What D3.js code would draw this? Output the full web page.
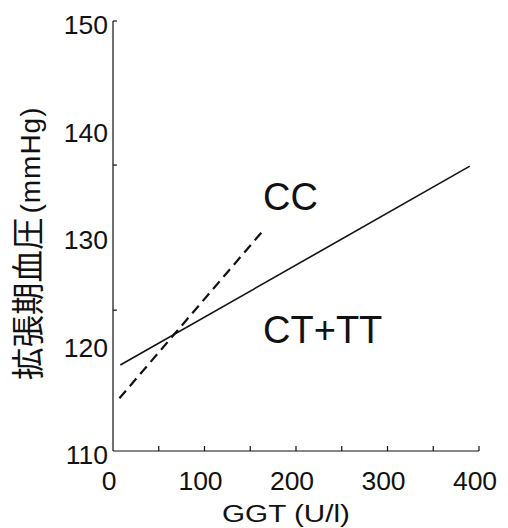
<!DOCTYPE html>
<html>
<head>
<meta charset="utf-8">
<script src="https://cdn.jsdelivr.net/npm/d3@7"></script>
<style>
  body { margin: 0; background: #fff; }
  svg { display: block; }
</style>
</head>
<body>
<svg id="chart" width="508" height="528"></svg>
<script>
// Data
var xLabelTicks = [0, 100, 200, 300, 400];
var xMinorTicks = [50, 100, 150, 200, 250, 300, 350, 400];
var yLabelTicks = [110, 120, 130, 140, 150];
var yMinorTicks = [150, 136.6, 123.1];

// Regression lines (GGT, mmHg)
var ctttLine = [[8, 118], [390, 136.5]];
var ccLine = [[7, 114.9], [164, 130.5]];

// Group labels
var groupNames = ["CC", "CT+TT"];
var groupPos = [[164, 132.4], [164, 120.05]];

var fontLatin = "'Liberation Sans', Arial, sans-serif";
var fontCjk = "'Noto Sans CJK JP', 'Noto Sans CJK SC', sans-serif";

var svg = d3.select("#chart");

// Scales
var x = d3.scaleLinear().domain([0, 400]).range([113, 479]);
var y = d3.scaleLinear().domain([110, 150]).range([451, 21]);

var axes = svg.append("g")
  .attr("class", "axes")
  .style("stroke", "#111")
  .style("stroke-width", 1.2)
  .style("fill", "none")
  ;

// Y-axis line
axes.append("line")
  .attr("x1", x(0))
  .attr("x2", x(0))
  .attr("y1", y(150))
  .attr("y2", y(110))
  ;

// X-axis line
axes.append("line")
  .attr("x1", x(0))
  .attr("x2", x(400))
  .attr("y1", y(110))
  .attr("y2", y(110))
  ;

// Y-axis ticks (inward)
for (var j = 0; j < yMinorTicks.length; j++) {
  axes.append("line")
    .attr("x1", x(0))
    .attr("x2", x(0) + 4)
    .attr("y1", y(yMinorTicks[j]))
    .attr("y2", y(yMinorTicks[j]))
    ;
}

// X-axis ticks (inward)
for (var j = 0; j < xMinorTicks.length; j++) {
  axes.append("line")
    .attr("x1", x(xMinorTicks[j]))
    .attr("x2", x(xMinorTicks[j]))
    .attr("y1", y(110))
    .attr("y2", y(110) - 5)
    ;
}

// Y-axis labels
svg.append("g").selectAll("text")
  .data(yLabelTicks)
  .enter().append("text")
    .attr("x", x(0) - 5)
    .attr("y", function(d) { return y(d) + 13; })
    .style("text-anchor", "end")
    .style("font-family", fontLatin)
    .style("font-size", "26.5px")
    .style("fill", "#111")
    .text(function(d) { return d; })
  ;

// X-axis labels
svg.append("g").selectAll("text")
  .data(xLabelTicks)
  .enter().append("text")
    .attr("x", function(d) { return x(d) - 4; })
    .attr("y", 490)
    .style("text-anchor", "middle")
    .style("font-family", fontLatin)
    .style("font-size", "26.5px")
    .style("fill", "#111")
    .text(function(d) { return d; })
  ;

// X-axis title
svg.append("text")
  .attr("x", 222)
  .attr("y", 522)
  .attr("textLength", 128)
  .attr("lengthAdjust", "spacingAndGlyphs")
  .style("font-family", fontLatin)
  .style("font-size", "23px")
  .style("fill", "#111")
  .text("GGT (U/l)")
  ;

// Y-axis title (rotated)
var ytitle = svg.append("text")
  .attr("transform", "translate(40,380) rotate(-90)")
  .style("fill", "#111")
  ;
ytitle.append("tspan")
  .style("font-family", fontCjk)
  .style("font-size", "32.5px")
  .text("拡張期血圧")
  ;
ytitle.append("tspan")
  .attr("dx", 4)
  .attr("textLength", 106)
  .attr("lengthAdjust", "spacing")
  .style("font-family", fontLatin)
  .style("font-size", "28px")
  .text("(mmHg)")
  ;

// Lines
var line = d3.line()
  .x(function(d) { return x(d[0]); })
  .y(function(d) { return y(d[1]); })
  ;

svg.append("path")
  .attr("d", line(ctttLine))
  .style("fill", "none")
  .style("stroke", "#111")
  .style("stroke-width", 1.6)
  ;

svg.append("path")
  .attr("d", line(ccLine))
  .style("fill", "none")
  .style("stroke", "#111")
  .style("stroke-width", 2.2)
  .style("stroke-dasharray", "10,6")
  ;

// Group labels
svg.append("g").selectAll("text")
  .data(groupNames)
  .enter().append("text")
    .attr("x", function(d, i) { return x(groupPos[i][0]); })
    .attr("y", function(d, i) { return y(groupPos[i][1]); })
    .style("font-family", fontLatin)
    .style("font-size", "38px")
    .style("fill", "#111")
    .text(function(d) { return d; })
  ;
</script>
</body>
</html>
